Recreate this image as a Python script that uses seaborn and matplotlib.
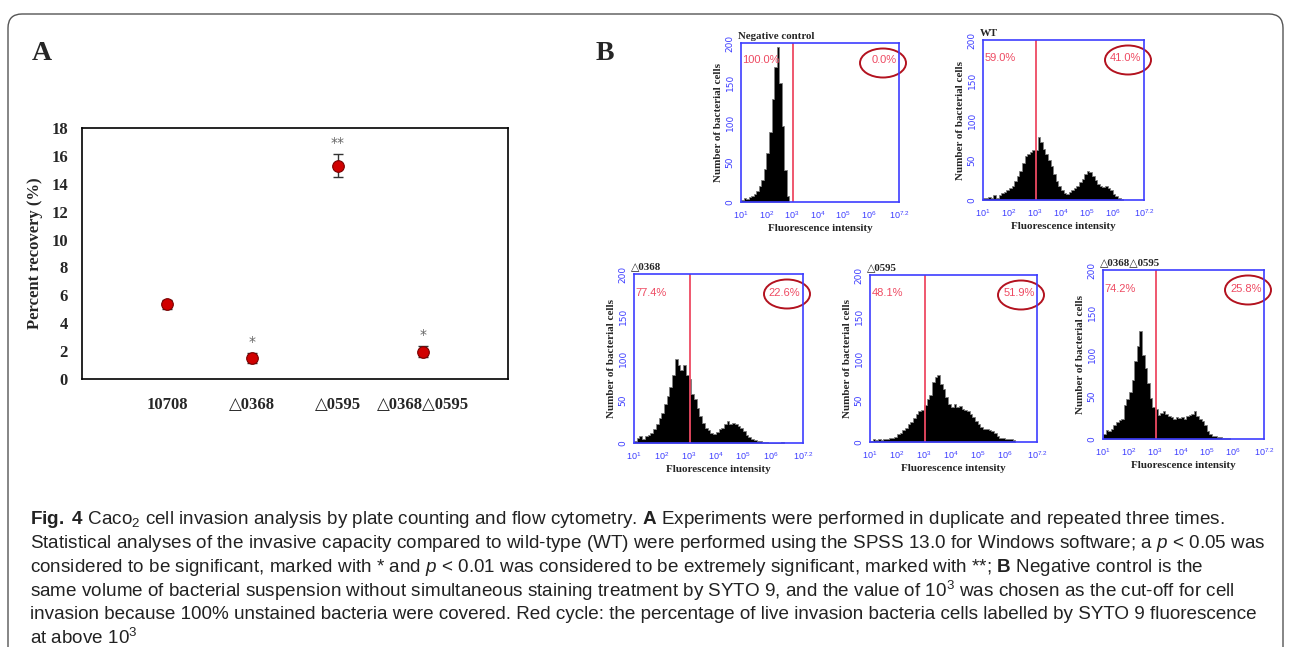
import numpy as np
import pandas as pd
import matplotlib
matplotlib.use("Agg")
import matplotlib.pyplot as plt
import seaborn as sns
from matplotlib.patches import Ellipse, FancyBboxPatch
from matplotlib.transforms import IdentityTransform
from matplotlib import font_manager

# ---- panel A : percent recovery ----
strains = ["10708", "△0368", "△0595", "△0368△0595"]
recovery = [5.35, 1.48, 15.3, 1.95]
recovery_err = [0.3, 0.36, 0.8, 0.4]
stars = ["", "*", "**", "*"]

# ---- panel B : flow cytometry histograms (counts per 0.1 log10 bin, starting at 10^1) ----
hist_titles = ["Negative control", "WT", "△0368", "△0595", "△0368△0595"]
left_pct = ["100.0%", "59.0%", "77.4%", "48.1%", "74.2%"]
right_pct = ["0.0%", "41.0%", "22.6%", "51.9%", "25.8%"]

neg_counts = [3, 5, 4, 6, 8, 10, 14, 20, 28, 42, 62, 88, 130, 170, 195, 150, 95, 40, 8]
wt_counts = [3, 2, 4, 2, 6, 2, 6, 9, 10, 12, 15, 18, 24, 30, 36, 46, 55, 58, 60, 62,
             63, 79, 72, 64, 58, 50, 42, 32, 24, 18, 12, 9, 8, 10, 12, 15, 18, 22, 26, 33,
             36, 35, 30, 25, 20, 17, 16, 18, 15, 12, 8, 5, 2, 1]
d0368_counts = [2, 6, 8, 5, 8, 10, 12, 17, 22, 29, 36, 46, 56, 66, 80, 100, 92, 86, 92, 80,
                76, 58, 52, 42, 32, 24, 18, 15, 12, 11, 13, 16, 18, 22, 26, 23, 24, 22, 20, 18,
                14, 10, 7, 5, 3, 2, 2, 1, 1, 0, 0, 0, 0, 0, 1]
d0595_counts = [1, 3, 2, 3, 2, 4, 3, 5, 5, 6, 9, 11, 14, 17, 21, 24, 29, 33, 37, 38,
                44, 52, 56, 72, 78, 80, 70, 64, 54, 46, 42, 46, 42, 43, 40, 38, 37, 34, 30, 25,
                21, 18, 16, 15, 14, 13, 11, 7, 5, 5, 4, 4, 3, 2]
dd_counts = [6, 11, 9, 12, 16, 20, 23, 24, 40, 47, 56, 70, 92, 110, 128, 100, 84, 66, 48, 38,
             35, 28, 31, 33, 30, 27, 26, 24, 26, 25, 26, 24, 27, 28, 30, 33, 27, 24, 21, 16,
             10, 6, 4, 3, 2, 2, 1, 1, 1]
all_counts = [neg_counts, wt_counts, d0368_counts, d0595_counts, dd_counts]

BIN_START, BIN_W = 1.0, 0.1
GATE = 3.06

caption = [
    r"$\mathbf{Fig.}$ $\mathbf{4}$ Caco$_{2}$ cell invasion analysis by plate counting and flow cytometry. $\mathbf{A}$ Experiments were performed in duplicate and repeated three times.",
    r"Statistical analyses of the invasive capacity compared to wild-type (WT) were performed using the SPSS 13.0 for Windows software; a $\mathit{p}$ < 0.05 was",
    r"considered to be significant, marked with * and $\mathit{p}$ < 0.01 was considered to be extremely significant, marked with **; $\mathbf{B}$ Negative control is the",
    r"same volume of bacterial suspension without simultaneous staining treatment by SYTO 9, and the value of 10$^{3}$ was chosen as the cut-off for cell",
    r"invasion because 100% unstained bacteria were covered. Red cycle: the percentage of live invasion bacteria cells labelled by SYTO 9 fluorescence",
    r"at above 10$^{3}$",
]

# ---- style ----
sns.set_style("white")
names = {f.name for f in font_manager.fontManager.ttflist}
cap_font = "Liberation Sans Narrow" if "Liberation Sans Narrow" in names else "Liberation Sans"
plt.rcParams["font.family"] = ["Liberation Serif", "DejaVu Sans"]
plt.rcParams["mathtext.fontset"] = "custom"
plt.rcParams["mathtext.rm"] = cap_font
plt.rcParams["mathtext.it"] = cap_font + ":italic"
plt.rcParams["mathtext.bf"] = cap_font + ":bold"
serif = ["Liberation Serif", "DejaVu Sans"]
blue = "#3d3dff"
pink = "#ee4a62"

W, H = 1290, 647
fig = plt.figure(figsize=(W / 100, H / 100), dpi=100)


def px_axes(l, t, r, b):
    return fig.add_axes([l / W, 1 - b / H, (r - l) / W, (b - t) / H])


# outer frame
frame = FancyBboxPatch((8, -30), 1275, H - 14 + 30, boxstyle="round,pad=0,rounding_size=14",
                       transform=IdentityTransform(), fill=False, edgecolor="#555555", linewidth=1.0)
fig.add_artist(frame)

fig.text(32 / W, 1 - 53 / H, "A", fontsize=20, fontweight="bold", family=serif, va="center")
fig.text(596 / W, 1 - 53 / H, "B", fontsize=20, fontweight="bold", family=serif, va="center")

# ---- panel A ----
ax = px_axes(82, 128, 508, 379)
ax.errorbar(strains, recovery, yerr=recovery_err, fmt="none", ecolor="#333333",
            elinewidth=1.0, capsize=3.5, capthick=1.0, zorder=2)
sns.scatterplot(x=strains, y=recovery, ax=ax, color="#d00000", s=70,
                edgecolor="#7a0000", linewidth=0.8, zorder=3)
for i, st in enumerate(stars):
    if st:
        ax.text(i, recovery[i] + recovery_err[i] + 0.3, st, ha="center", va="bottom",
                fontsize=10, color="#666666", family="DejaVu Sans")
ax.set_xlim(-1, 4)
ax.set_ylim(0, 18)
ax.set_yticks(range(0, 19, 2))
ax.set_ylabel("Percent recovery (%)", fontsize=12, fontweight="bold", family=serif, labelpad=6)
ax.set_xlabel("")
ax.tick_params(length=0)
ax.tick_params(axis="x", pad=13)
ax.tick_params(axis="y", pad=10)
for lab in ax.get_xticklabels() + ax.get_yticklabels():
    lab.set_fontweight("bold")
    lab.set_fontsize(12)
    lab.set_family(serif)
for sp in ax.spines.values():
    sp.set_color("black")
    sp.set_linewidth(1.2)

# ---- panel B ----
boxes = [(741, 43, 899, 202), (983, 40, 1144, 200), (634, 274, 803, 443),
         (870, 275, 1037, 442), (1103, 270, 1264, 439)]
minor = [n + np.log10(k) for n in range(1, 8) for k in range(2, 10) if n + np.log10(k) < 7.2]

for box, title, lp, rp, counts in zip(boxes, hist_titles, left_pct, right_pct, all_counts):
    l, t, r, b = box
    hx = px_axes(l, t, r, b)
    edges = [round(BIN_START + BIN_W * k, 2) for k in range(len(counts) + 1)]
    df = pd.DataFrame({"log_fl": [e + BIN_W / 2 for e in edges[:-1]], "cells": counts})
    sns.histplot(data=df, x="log_fl", weights="cells", bins=edges, ax=hx, color="black",
                 alpha=1, element="step", edgecolor="0.5", linewidth=0.6)
    hx.axvline(GATE, color=pink, linewidth=1.3)
    hx.set_xlim(1, 7.2)
    hx.set_ylim(0, 200)
    hx.set_xticks([1, 2, 3, 4, 5, 6, 7.2])
    hx.set_xticklabels([r"$10^{1}$", r"$10^{2}$", r"$10^{3}$", r"$10^{4}$", r"$10^{5}$",
                        r"$10^{6}$", r"$10^{7.2}$"], fontsize=6.5, color=blue)
    hx.set_xticks(minor, minor=True)
    hx.set_yticks([0, 50, 100, 150, 200])
    hx.set_yticklabels(["0", "50", "100", "150", "200"], fontsize=6.5, color=blue,
                       rotation=90, va="center", family="DejaVu Sans")
    hx.tick_params(direction="out", colors=blue, length=3, width=0.8, pad=1.5)
    hx.tick_params(which="minor", axis="x", direction="out", colors=blue, length=3, width=0.8)
    hx.tick_params(which="major", axis="x", length=4)
    for sp in hx.spines.values():
        sp.set_color(blue)
        sp.set_linewidth(1.2)
    hx.set_ylabel("Number of bacterial cells", fontsize=8, fontweight="bold", family=serif,
                  labelpad=2)
    hx.set_xlabel("Fluorescence intensity", fontsize=8, fontweight="bold", family=serif,
                  labelpad=2)
    hx.text(-0.02, 1.015, title, transform=hx.transAxes, ha="left", va="bottom",
            fontsize=7.8, fontweight="bold", family=serif)
    hx.text(0.01, 0.89, lp, transform=hx.transAxes, ha="left", va="center",
            fontsize=8, color=pink, family="Liberation Sans")
    hx.text(0.985, 0.89, rp, transform=hx.transAxes, ha="right", va="center",
            fontsize=8, color=pink, family="Liberation Sans")
    wpx, hpx = r - l, b - t
    hx.add_patch(Ellipse((1 - 16 / wpx, 1 - 20 / hpx), 46 / wpx, 29 / hpx,
                         transform=hx.transAxes, fill=False, edgecolor="#b3121f",
                         linewidth=1.4, clip_on=False))

# ---- caption: one font size, scaled so the widest line fits the frame ----
renderer = fig.canvas.get_renderer()
widest = 0
for line in caption:
    probe = fig.text(0, 0, line, fontsize=12, family=cap_font)
    widest = max(widest, probe.get_window_extent(renderer).width)
    probe.remove()
cap_size = 12 * 1236 / widest
for i, line in enumerate(caption):
    fig.text(30 / W, 1 - (520 + 23.6 * i) / H, line, fontsize=cap_size, family=cap_font,
             va="center", ha="left", color="#222222")

fig.savefig("out.png", dpi=100)
